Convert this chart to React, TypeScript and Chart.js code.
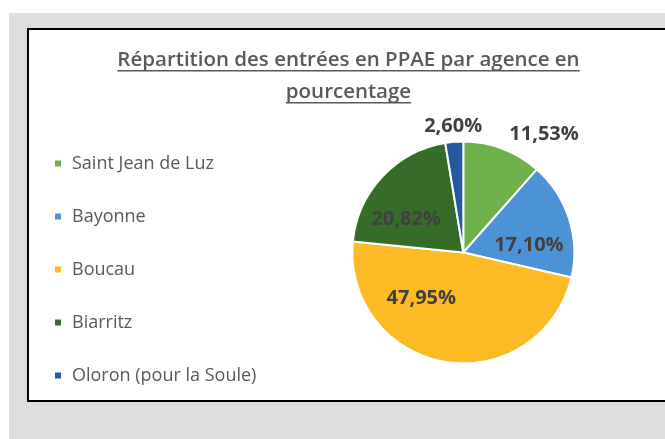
import React, { useEffect, useRef } from 'react';
import { Chart, registerables } from 'chart.js';

Chart.register(...registerables);

// ---- data ----
const TITLE_LINES = ['Répartition des entrées en PPAE par agence en', 'pourcentage'];
const AGENCIES = ['Saint Jean de Luz', 'Bayonne', 'Boucau', 'Biarritz', 'Oloron (pour la Soule)'];
const SHARES = [11.53, 17.1, 47.95, 20.82, 2.6];

// ---- styling ----
const COLORS = ['#6db14b', '#4c93d6', '#fcba24', '#346c28', '#235a9f'];
const FONT = '"Open Sans", "DejaVu Sans", sans-serif';
const TEXT_GREY = '#595959';
const LABEL_GREY = '#404040';
const TITLE_SIZE = 20.5;
const TITLE_LINE_H = 32;
const TITLE_PAD_TOP = 31.2;
const LEGEND_SIZE = 18;
const LABEL_SIZE = 20;
// data-label placement (Excel "best fit"): angular shift from mid-angle (deg), distance as fraction of radius
const LABEL_TURN = [13.5, 11.1, 33.4, -13.3, 0.1];
const LABEL_DIST = [1.293, 0.595, 0.557, 0.594, 1.14];

const CANVAS_W = 680;
const CANVAS_H = 426;

const fmtPct = (v: number) => v.toFixed(2).replace('.', ',') + '%';

const underlinePlugin = {
  id: 'titleUnderline',
  afterDraw(chart: any) {
    const title = chart.titleBlock;
    if (!title || !title.options.display) return;
    const lines: string[] = Array.isArray(title.options.text) ? title.options.text : [title.options.text];
    const ctx = chart.ctx as CanvasRenderingContext2D;
    ctx.save();
    ctx.font = `600 ${TITLE_SIZE}px ${FONT}`;
    ctx.strokeStyle = TEXT_GREY;
    ctx.lineWidth = 1.5;
    const cx = (title.left + title.right) / 2;
    lines.forEach((line, i) => {
      const mid = title.top + TITLE_PAD_TOP + TITLE_LINE_H * (i + 0.5);
      const w = ctx.measureText(line).width;
      const y = mid + 10.5;
      ctx.beginPath();
      ctx.moveTo(cx - w / 2, y);
      ctx.lineTo(cx + w / 2, y);
      ctx.stroke();
    });
    ctx.restore();
  },
};

// Excel's legend has no inner padding; let the narrower legend box draw its full labels
const legendRoomPlugin = {
  id: 'legendRoom',
  afterLayout(chart: any) {
    const lg = chart.legend;
    if (lg) lg.right = lg.left + 400;
  },
};

const sliceLabelPlugin = {
  id: 'sliceLabels',
  afterDatasetsDraw(chart: any) {
    const meta = chart.getDatasetMeta(0);
    const values = chart.data.datasets[0].data as number[];
    const ctx = chart.ctx as CanvasRenderingContext2D;
    ctx.save();
    ctx.font = `bold ${LABEL_SIZE}px ${FONT}`;
    ctx.fillStyle = LABEL_GREY;
    ctx.textAlign = 'center';
    ctx.textBaseline = 'middle';
    meta.data.forEach((arc: any, i: number) => {
      const p = arc.getProps(['x', 'y', 'startAngle', 'endAngle', 'outerRadius'], true);
      const a = (p.startAngle + p.endAngle) / 2 + (LABEL_TURN[i] * Math.PI) / 180;
      const d = p.outerRadius * LABEL_DIST[i];
      ctx.fillText(fmtPct(values[i]), p.x + Math.cos(a) * d, p.y + Math.sin(a) * d);
    });
    ctx.restore();
  },
};

export default function App() {
  const ref = useRef<HTMLCanvasElement>(null);

  useEffect(() => {
    const canvas = ref.current;
    if (!canvas) return;
    const chart = new Chart(canvas, {
      type: 'pie',
      data: {
        labels: AGENCIES,
        datasets: [
          {
            data: SHARES,
            backgroundColor: COLORS,
            borderColor: '#ffffff',
            borderWidth: 2,
            radius: 111,
          } as any,
        ],
      },
      options: {
        responsive: false,
        animation: false,
        devicePixelRatio: 1,
        events: [],
        layout: { padding: { left: 9, right: 10, top: 0, bottom: 19.5 } },
        plugins: {
          title: {
            display: true,
            text: TITLE_LINES,
            color: TEXT_GREY,
            font: { family: FONT, size: TITLE_SIZE, weight: '600', lineHeight: `${TITLE_LINE_H}px` },
            padding: { top: TITLE_PAD_TOP, bottom: -22.7 },
          },
          legend: {
            display: true,
            position: 'left',
            align: 'end',
            maxWidth: 229.6,
            labels: {
              usePointStyle: true,
              pointStyle: 'rect',
              boxWidth: 10,
              boxHeight: 8,
              padding: 35,
              color: TEXT_GREY,
              font: { family: FONT, size: LEGEND_SIZE },
            },
          },
          tooltip: { enabled: false },
        },
      } as any,
      plugins: [legendRoomPlugin, underlinePlugin, sliceLabelPlugin],
    });
    return () => chart.destroy();
  }, []);

  return (
    <div style={{ position: 'fixed', left: 0, top: 0, width: '100vw', height: '100vh', overflow: 'hidden', background: '#ffffff' }}>
      <div style={{ position: 'absolute', left: 9, top: 13, right: 0, bottom: 0, background: '#dedede' }} />
      <div
        style={{
          position: 'absolute',
          left: 27,
          top: 28,
          width: 700,
          height: 374,
          background: '#ffffff',
          border: '2px solid #000000',
          boxSizing: 'border-box',
        }}
      />
      <canvas ref={ref} width={CANVAS_W} height={CANVAS_H} style={{ position: 'absolute', left: 9, top: 13, width: CANVAS_W, height: CANVAS_H }} />
    </div>
  );
}
